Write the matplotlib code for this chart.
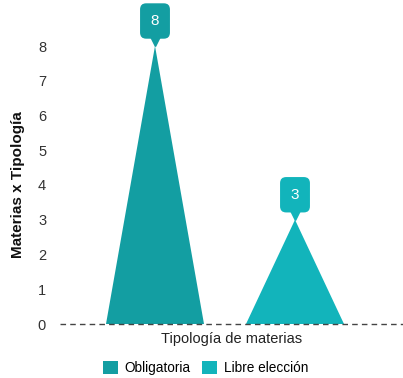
import matplotlib
matplotlib.use("Agg")
import matplotlib.pyplot as plt
from matplotlib.patches import Polygon, Patch
from matplotlib.transforms import offset_copy

plt.rcParams['font.family'] = ['Liberation Sans', 'DejaVu Sans']

categories = ["Obligatoria", "Libre elección"]
values = [8, 3]
colors = ["#139ea2", "#12b4bb"]
yticks = [0, 1, 2, 3, 4, 5, 6, 7, 8]

fig = plt.figure(figsize=(4.03, 3.78), dpi=100)
ax = fig.add_axes([60/403, 54/378, 343/403, (324-46)/378])

half = 0.35
for i, (c, v, col) in enumerate(zip(categories, values, colors)):
    tri = Polygon([(i - half, 0), (i, v), (i + half, 0)], closed=True,
                  facecolor=col, edgecolor='none', zorder=2)
    ax.add_patch(tri)
    # callout pointer
    tr = offset_copy(ax.transData, fig=fig, x=0, y=6, units='dots')
    ax.plot([i], [v], marker='v', markersize=8, color=col, transform=tr,
            clip_on=False, zorder=4)
    ax.annotate(str(v), xy=(i, v), xytext=(0, 25), textcoords='offset pixels',
                ha='center', va='center', color='white', fontsize=11,
                bbox=dict(boxstyle='round,pad=0.7,rounding_size=0.4',
                          fc=col, ec='none'),
                annotation_clip=False, zorder=5)

ax.set_xlim((60 - 155) / 140, (403 - 155) / 140)
ax.set_ylim(0, 8)
ax.set_yticks(yticks)
ax.set_yticklabels([str(t) for t in yticks], fontsize=10.5, color='#333333')
ax.tick_params(axis='y', length=0, pad=10)
ax.set_xticks([])
for s in ax.spines.values():
    s.set_visible(False)
ax.axhline(0, color='#444444', linestyle=(0, (4, 3)), linewidth=1.0,
           zorder=3, clip_on=False)

ax.set_ylabel("Materias x Tipología", fontsize=11, fontweight='bold',
              color='#111111', labelpad=9)
ax.set_xlabel("Tipología de materias", fontsize=10.5, color='#222222', labelpad=6)

handles = [Patch(facecolor=col, edgecolor='none') for col in colors]
fig.legend(handles, categories, loc='lower center', bbox_to_anchor=(0.51, -0.025),
           ncol=2, frameon=False, fontsize=9.8, handlelength=1.1, handleheight=1.1,
           handletextpad=0.5, columnspacing=0.8)

fig.savefig("out.png", dpi=100)
